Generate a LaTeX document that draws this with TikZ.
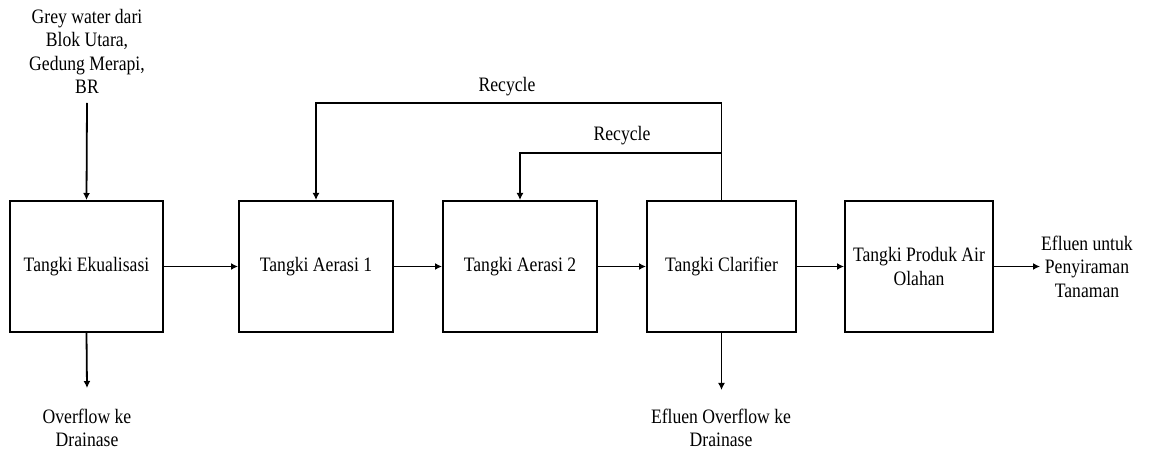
\documentclass[tikz,border=0pt]{standalone}
\usepackage{fontspec}
\setmainfont{Liberation Serif}[FakeStretch=0.86]
\usetikzlibrary{arrows.meta}
\begin{document}
\begin{tikzpicture}[x=1pt,y=-1pt,
  font=\fontsize{20.5}{23.5}\selectfont,
  tank/.style={draw,line width=2pt,minimum height=131pt,inner sep=2pt,align=center},
  lbl/.style={align=center,inner sep=1pt},
  flow/.style={line width=1.8pt,-{Latex[length=7pt,width=7pt]}},
  pipe/.style={line width=1.8pt}]
\useasboundingbox (0,0) rectangle (1160,454);
\node[tank,minimum width=153pt] (eq) at (86.5,266.5) {Tangki Ekualisasi};
\node[tank,minimum width=154pt] (a1) at (316,266.5) {Tangki Aerasi 1};
\node[tank,minimum width=154pt] (a2) at (520,266.5) {Tangki Aerasi 2};
\node[tank,minimum width=149pt] (cl) at (721.5,266.5) {Tangki Clarifier};
\node[tank,minimum width=148pt] (pr) at (919,266.5) {Tangki Produk Air\\Olahan};
\node[lbl] (in) at (87,51.5) {Grey water dari\\Blok Utara,\\Gedung Merapi,\\BR};
\node[lbl] (of1) at (87,428) {Overflow ke\\Drainase};
\node[lbl] (of2) at (721,428) {Efluen Overflow ke\\Drainase};
\node[lbl,anchor=west] (out) at (1040,266.5) {Efluen untuk\\Penyiraman\\Tanaman};
\node[lbl] (rc1) at (507,87) {Recycle};
\node[lbl] (rc2) at (622,136) {Recycle};
\coordinate (r1) at (721.5,103);
\coordinate (r2) at (721.5,153);
\coordinate (e1) at (87,388);
\coordinate (e2) at (721.5,390);
\draw[flow] (87,103) -- (eq.north);
\draw[flow] (eq) -- (a1);
\draw[flow] (a1) -- (a2);
\draw[flow] (a2) -- (cl);
\draw[flow] (cl) -- (pr);
\draw[flow] (pr) -- (out);
\draw[flow] (eq.south) -- (e1);
\draw[flow] (cl.south) -- (e2);
\draw[pipe] (cl.north) -- (r1);
\draw[flow] (r1) -| (a1.north);
\draw[flow] (r2) -| (a2.north);
\end{tikzpicture}
\end{document}
